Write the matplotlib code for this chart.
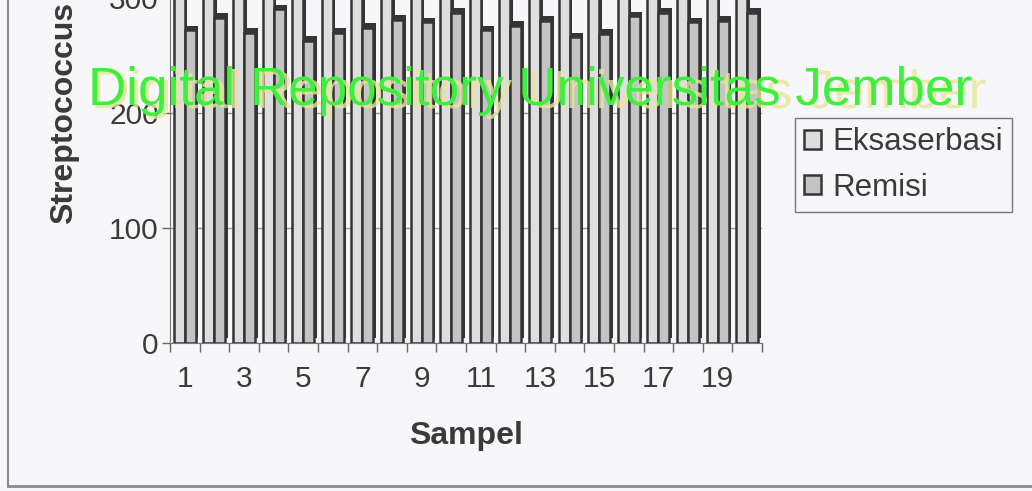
import matplotlib.pyplot as plt
import numpy as np
from matplotlib.lines import Line2D

plt.rcParams['font.family'] = ['Liberation Sans', 'DejaVu Sans']

sampel = list(range(1, 21))
# eksaserbasi bars run past the top of the scanned crop; values only estimated
eksaserbasi = [352, 340, 365, 348, 372, 338, 356, 361, 344, 350,
               368, 342, 358, 346, 363, 354, 339, 366, 349, 357]
remisi = [272, 283, 270, 290, 263, 270, 274, 281, 279, 287,
          272, 276, 280, 266, 269, 284, 287, 279, 280, 287]

bg = '#f7f7f9'
edge = '#353535'
txt = '#3a3a3a'

fig = plt.figure(figsize=(10.32, 4.91), dpi=100, facecolor=bg)
ax = fig.add_axes([0.1647, 0.3014, 0.5737, 0.9369])
ax.set_facecolor(bg)

x = np.arange(len(sampel))
w = 0.37

# depth / shadow faces behind the columns
for off, vals in [(-w / 2, eksaserbasi), (w / 2, remisi)]:
    ax.bar(x + off + 0.09, vals, width=w, bottom=4, color=edge,
           edgecolor=edge, linewidth=0, zorder=2)

ax.bar(x - w / 2, eksaserbasi, width=w, color='#dedede', edgecolor=edge,
       linewidth=1.8, zorder=3, label='Eksaserbasi')
ax.bar(x + w / 2, remisi, width=w, color='#c4c4c4', edgecolor=edge,
       linewidth=1.8, zorder=3, label='Remisi')

ax.set_xlim(-0.5, len(sampel) - 0.5)
ax.set_ylim(0, 400)
ax.set_yticks([0, 100, 200, 300, 400])
ax.yaxis.grid(True, color='#9a9a9a', linewidth=1.0, zorder=0)
ax.set_axisbelow(True)

ax.set_xticks(x[::2])
ax.set_xticklabels([str(s) for s in sampel[::2]])
ax.set_xticks(np.arange(-0.5, len(sampel), 1), minor=True)
ax.tick_params(axis='x', which='major', length=0, pad=16, labelsize=21.5,
               labelcolor=txt)
ax.tick_params(axis='x', which='minor', length=6.5, width=1, color='#666666')
ax.tick_params(axis='y', length=6, width=1, color='#666666', pad=2,
               labelsize=21.5, labelcolor=txt)

for side in ['top', 'right']:
    ax.spines[side].set_visible(False)
ax.spines['left'].set_color('#777777')
ax.spines['bottom'].set_color('#777777')

ax.set_xlabel('Sampel', fontsize=23, fontweight='bold', color=txt,
              labelpad=20)
ax.set_ylabel('Streptococcus', fontsize=23, fontweight='bold',
              color=txt, labelpad=22)

fig.legend(loc='upper left', bbox_to_anchor=(0.770, 0.760), borderaxespad=0,
           fontsize=22.5, frameon=True, fancybox=False, edgecolor='#777777',
           facecolor=bg, framealpha=1, handlelength=0.55, handleheight=0.55,
           handletextpad=0.35, borderpad=0.3, labelspacing=0.5,
           labelcolor=txt)

# chart-area border (top and right cut off by the scan)
fig.add_artist(Line2D([0.0078, 0.0078], [0.010, 1.0], color='#8a8a8a', lw=1.5))
fig.add_artist(Line2D([0.0078, 1.0], [0.010, 0.010], color='#8a8a8a', lw=2))

# repository watermark
fig.text(0.088, 0.780, 'Digital Repository Universitas Jember', fontsize=38.6,
         color='#e6e69a', alpha=0.8, zorder=5)
fig.text(0.0853, 0.786, 'Digital Repository Universitas Jember', fontsize=38.2,
         color='#3cf03c', zorder=6)

fig.savefig('out.png', dpi=100, facecolor=bg)
